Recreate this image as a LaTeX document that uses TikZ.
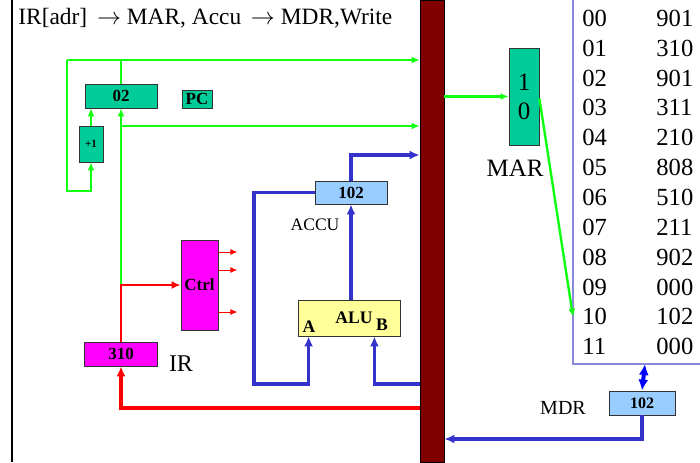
\documentclass[tikz,border=0pt]{standalone}
\usepackage{fontspec}
\setmainfont{Liberation Serif}
\usepackage{tikz}
\usetikzlibrary{arrows.meta,positioning}
\definecolor{regteal}{HTML}{00CC99}
\definecolor{regmag}{HTML}{FF00FF}
\definecolor{regblue}{HTML}{99CCFF}
\definecolor{regyel}{HTML}{FFFF99}
\definecolor{busred}{HTML}{800000}
\definecolor{wiregreen}{HTML}{11FF11}
\definecolor{wireblue}{HTML}{3333CC}
\definecolor{wirepure}{HTML}{0000FF}
\definecolor{memline}{HTML}{8888DD}

\begin{document}
\begin{tikzpicture}[x=0.5pt,y=-0.5pt,
  reg/.style={draw=black!80,inner sep=0pt,font=\bfseries\fontsize{8.5}{10}\selectfont},
  gline/.style={draw=wiregreen,line width=1.2pt,-{Latex[length=4pt,width=3.5pt]}},
  rthin/.style={draw=red,line width=1.1pt,-{Latex[length=4.5pt,width=4pt]}},
  rthick/.style={draw=red,line width=1.8pt,-{Latex[length=5pt,width=4.5pt]}},
  rout/.style={draw=red,line width=0.5pt,-{Latex[length=3.5pt,width=3pt]}},
  bline/.style={draw=wireblue,line width=1.6pt,-{Latex[length=5pt,width=4.5pt]}},
  memtxt/.style={anchor=west,inner sep=0pt,font=\fontsize{12.3}{14}\selectfont},
  lbl/.style={inner sep=0pt}]
\useasboundingbox (0,0) rectangle (700,462);

\draw[line width=1.4pt] (12,0) -- (12,462);
\node[lbl,anchor=west,font=\fontsize{11.7}{13}\selectfont] (title) at (18,18)
  {IR[adr] \,$\rightarrow$ MAR, Accu \,$\rightarrow$ MDR,Write};

\node[draw=black,fill=busred,minimum width=12pt,minimum height=231pt,inner sep=0pt] (bus) at (432,231) {};

\draw[memline,line width=0.6pt] (573,0) coordinate (memtl) -- (573,364) -- (700,364);
\foreach \a/\v [count=\i from 0] in {00/901,01/310,02/901,03/311,04/210,05/808,06/510,07/211,08/902,09/000,10/102,11/000} {
    \node[memtxt] (r\a) at (582,{18.3+29.85*\i}) {\a};
    \node[memtxt] (v\a) at (656,{18.3+29.85*\i}) {\v};
}
\coordinate (membot) at (645,364);

\node[reg,fill=regteal,minimum width=36pt,minimum height=12pt] (pc) at (121,96) {02};
\node[reg,fill=regteal,minimum width=15pt,minimum height=9pt] (pclbl) at (197,99) {PC};
\node[reg,fill=regteal,minimum width=12pt,minimum height=18pt,font=\bfseries\fontsize{5.5}{6}\selectfont] (inc) at (91,144) {+1};
\node[reg,fill=regmag,minimum width=18.5pt,minimum height=45pt] (ctrl) at (199.5,285) {Ctrl};
\node[reg,fill=regmag,minimum width=36.5pt,minimum height=12pt] (ir) at (121,354) {310};
\node[lbl,font=\fontsize{12}{14}\selectfont] (irlbl) at (181,364) {IR};
\node[reg,fill=regblue,minimum width=36pt,minimum height=11.5pt] (accu) at (351,192.5) {102};
\node[lbl,font=\fontsize{8.8}{10}\selectfont] (acculbl) at (315,225) {ACCU};
\node[reg,fill=regyel,minimum width=51pt,minimum height=18pt] (alu) at (349,318) {};
\node[lbl,font=\bfseries\fontsize{8.8}{10}\selectfont] (alulbl) at (354,318) {ALU};
\node[lbl,font=\bfseries\fontsize{8.8}{10}\selectfont] (alua) at (309,327) {A};
\node[lbl,font=\bfseries\fontsize{8.8}{10}\selectfont] (alub) at (382,325) {B};
\node[reg,fill=regteal,minimum width=15pt,minimum height=48.5pt,align=center,
  font=\fontsize{12.5}{14.5}\selectfont] (mar) at (524,96.5) {1\\0};
\node[lbl,font=\fontsize{12.5}{14}\selectfont] (marlbl) at (515,168) {MAR};
\node[reg,fill=regblue,minimum width=33pt,minimum height=12pt,font=\bfseries\fontsize{8}{10}\selectfont] (mdr) at (642,403) {102};
\node[lbl,font=\fontsize{10}{12}\selectfont] (mdrlbl) at (563,408) {MDR};

\coordinate (toprail) at (67,60);
\coordinate (loopc) at (67,191);
\draw[gline,-] (pc.north) -- (pc.north |- toprail);
\draw[gline] (toprail) -- (toprail -| bus.west);
\draw[gline] (toprail) -- (loopc) -| (inc.south);
\draw[gline] (inc.north) -- (inc.north |- pc.south);
\draw[gline] (ir.north |- ctrl.west) -- (pc.south);
\draw[gline] (pc.south |- 0,126) -- (bus.west |- 0,126);
\draw[gline] (bus.east |- mar.west) -- (mar.west);
\draw[gline] ([yshift=-1pt]mar.east) -- (memtl |- r10);

\draw[rthin] (ir.north) |- (ctrl.west);
\foreach \yy in {252,270,312} {
    \draw[rout] (ctrl.east |- 0,\yy) -- ++(19,0);
}
\draw[rthick] (bus.west |- 0,408) -| (ir.south);

\draw[bline] (accu.south |- alu.north) -- (accu.south);
\draw[bline] (accu.north) |- (bus.west |- 0,155);
\draw[bline] (accu.west) -| (254,384) -| ([xshift=5.5pt]alu.south west);
\draw[bline] (bus.west |- 0,384) -| ([xshift=-13pt]alu.south east);

\draw[draw=wirepure,line width=2pt,{Latex[length=5.5pt,width=5pt]}-{Latex[length=5.5pt,width=5pt]}] (membot) -- (mdr.north);
\draw[bline] (mdr.south) |- (bus.east |- 0,439);
\end{tikzpicture}
\end{document}
